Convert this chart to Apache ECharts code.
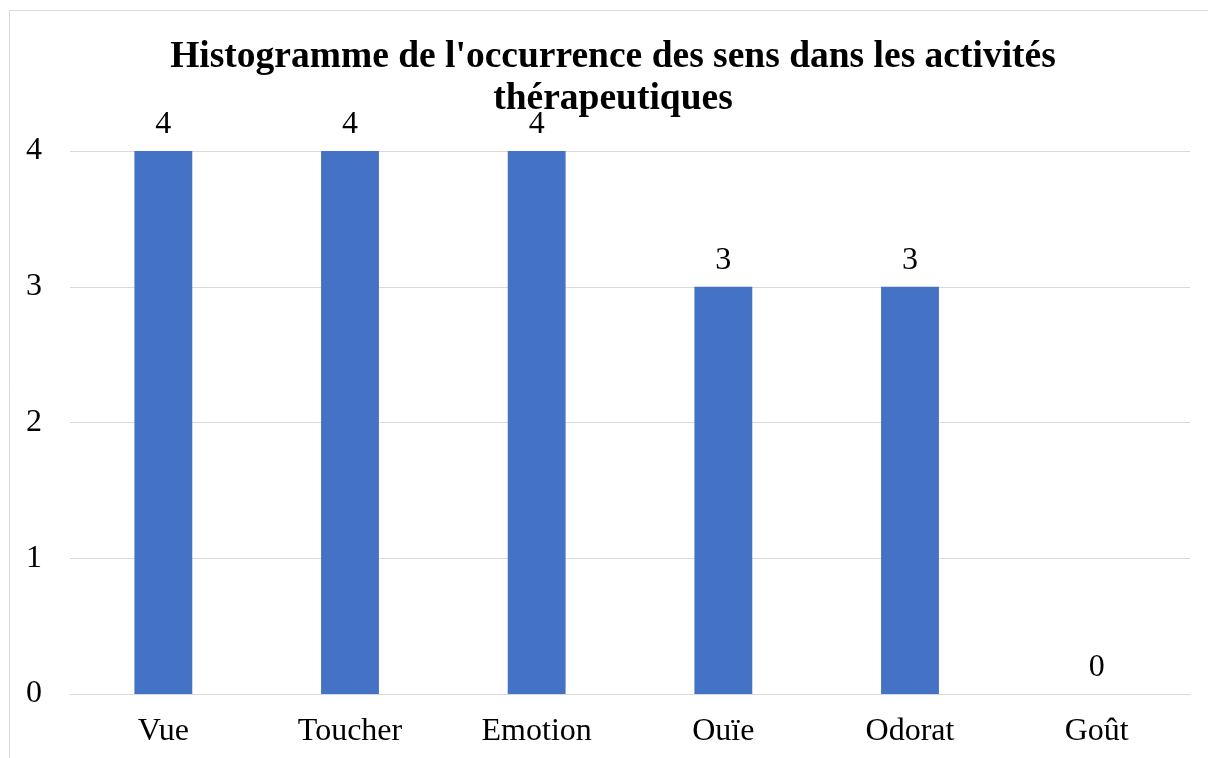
<!DOCTYPE html>
<html>
<head>
<meta charset="utf-8">
<script src="https://cdn.jsdelivr.net/npm/echarts@6/dist/echarts.min.js"></script>
<style>
html,body{margin:0;padding:0;background:#fff;}
#chart{width:1208px;height:758px;}
</style>
</head>
<body>
<div id="chart"></div>
<script>
const titleText = "Histogramme de l'occurrence des sens dans les activités\nthérapeutiques";
const categories = ["Vue", "Toucher", "Emotion", "Ouïe", "Odorat", "Goût"];
const values = [4, 4, 4, 3, 3, 0];
const yTicks = { min: 0, max: 4, interval: 1 };

const chart = echarts.init(document.getElementById('chart'), null, { renderer: 'canvas' });
const serif = "'Liberation Serif', 'Times New Roman', serif";
chart.setOption({
  animation: false,
  backgroundColor: '#ffffff',
  graphic: [{
    type: 'rect',
    shape: { x: 9.5, y: 10.5, width: 1400, height: 1000 },
    style: { fill: 'none', stroke: '#d9d9d9', lineWidth: 1 },
    silent: true
  }],
  title: {
    text: titleText,
    left: 608,
    top: 31,
    textAlign: 'center',
    textStyle: { fontFamily: serif, fontWeight: 'bold', fontSize: 37.5, color: '#000', lineHeight: 42 }
  },
  grid: { left: 70, right: 18, top: 151, bottom: 64, containLabel: false },
  xAxis: {
    type: 'category',
    data: categories,
    axisLine: { show: true, lineStyle: { color: '#d9d9d9', width: 1 } },
    axisTick: { show: false },
    axisLabel: { fontFamily: serif, fontSize: 32, color: '#000', margin: 22 }
  },
  yAxis: {
    type: 'value',
    min: yTicks.min, max: yTicks.max, interval: yTicks.interval,
    axisLine: { show: false },
    axisTick: { show: false },
    splitLine: { lineStyle: { color: '#d9d9d9', width: 1 } },
    axisLabel: { fontFamily: serif, fontSize: 32, color: '#000', margin: 28 }
  },
  series: [{
    type: 'bar',
    data: values,
    barWidth: '31%',
    itemStyle: { color: '#4472C4' },
    label: { show: true, position: 'top', distance: 10, fontFamily: serif, fontSize: 32, color: '#000' }
  }]
});
</script>
</body>
</html>
